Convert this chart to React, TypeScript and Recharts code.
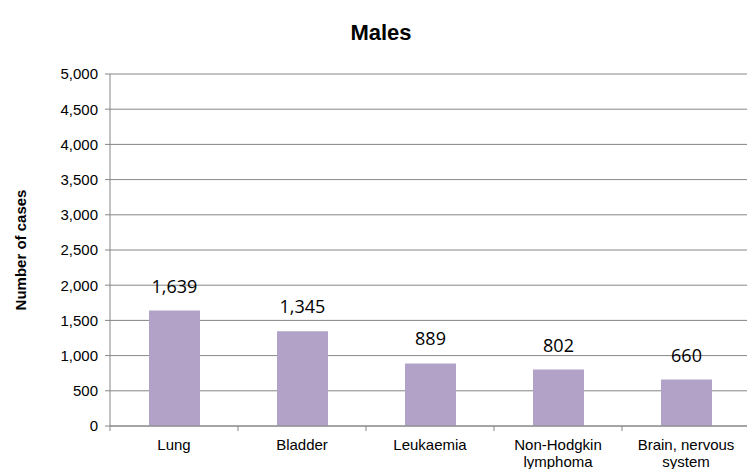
import React from 'react';
import { BarChart, Bar, XAxis, YAxis, CartesianGrid, LabelList } from 'recharts';

const categories = ['Lung', 'Bladder', 'Leukaemia', 'Non-Hodgkin lymphoma', 'Brain, nervous system'];
const tickLines: string[][] = [['Lung'], ['Bladder'], ['Leukaemia'], ['Non-Hodgkin', 'lymphoma'], ['Brain, nervous', 'system']];
const cases = [1639, 1345, 889, 802, 660];
const yTicks = [0, 500, 1000, 1500, 2000, 2500, 3000, 3500, 4000, 4500, 5000];

const data = categories.map((name, i) => ({ name, cases: cases[i], idx: i }));

const fmt = (v: number) => v.toLocaleString('en-US');

const CategoryTick = (props: any) => {
  const { x, y, payload, index } = props;
  const lines = tickLines[index ?? payload.index] || [payload.value];
  const half = 64;
  return (
    <g>
      <line x1={x - half} y1={y - 8} x2={x - half} y2={y - 3} stroke="#868686" />
      <text x={x} y={y + 16} textAnchor="middle" fill="#000" fontSize={15} fontFamily="'Liberation Sans', Arial, sans-serif">
        {lines.map((l, i) => (
          <tspan key={i} x={x} dy={i === 0 ? 0 : 17}>{l}</tspan>
        ))}
      </text>
    </g>
  );
};

const App: React.FC = () => {
  return (
    <div style={{ position: 'absolute', left: 0, top: 0, width: 747, height: 469, overflow: 'hidden', background: '#fff' }}>
      <div style={{ position: 'absolute', left: 0, top: 20, width: 762, textAlign: 'center', fontFamily: "'Liberation Sans', Arial, sans-serif", fontWeight: 'bold', fontSize: 22, color: '#000' }}>
        Males
      </div>
      <BarChart width={750} height={469} data={data} margin={{ top: 74, right: 0, left: 0, bottom: 0 }}>
        <CartesianGrid vertical={false} stroke="#868686" strokeWidth={1} />
        <XAxis
          dataKey="name"
          stroke="#868686"
          tickLine={false}
          tick={<CategoryTick />}
          interval={0}
          height={43}
        />
        <YAxis
          width={110}
          domain={[0, 5000]}
          ticks={yTicks}
          interval={0}
          stroke="#868686"
          tickSize={5}
          tickMargin={7}
          tickFormatter={fmt}
          tick={{ fill: '#000', fontSize: 15, fontFamily: "'Liberation Sans', Arial, sans-serif" }}
          label={{
            content: (p: any) => {
              const vb = p.viewBox || {};
              const cy = (vb.y ?? 74) + (vb.height ?? 352) / 2;
              return (
                <text
                  x={20}
                  y={cy}
                  transform={`rotate(-90, 20, ${cy})`}
                  textAnchor="middle"
                  dominantBaseline="central"
                  fontSize={15}
                  fontWeight="bold"
                  fontFamily="'Liberation Sans', Arial, sans-serif"
                  fill="#000"
                >
                  Number of cases
                </text>
              );
            },
          }}
        />
        <Bar dataKey="cases" fill="#B3A2C7" barSize={51} isAnimationActive={false}>
          <LabelList
            dataKey="cases"
            position="top"
            offset={18}
            formatter={(v: any) => fmt(Number(v))}
            style={{ fill: '#000', fontSize: 18, fontFamily: "'Open Sans', sans-serif" }}
          />
        </Bar>
      </BarChart>
    </div>
  );
};

export default App;
